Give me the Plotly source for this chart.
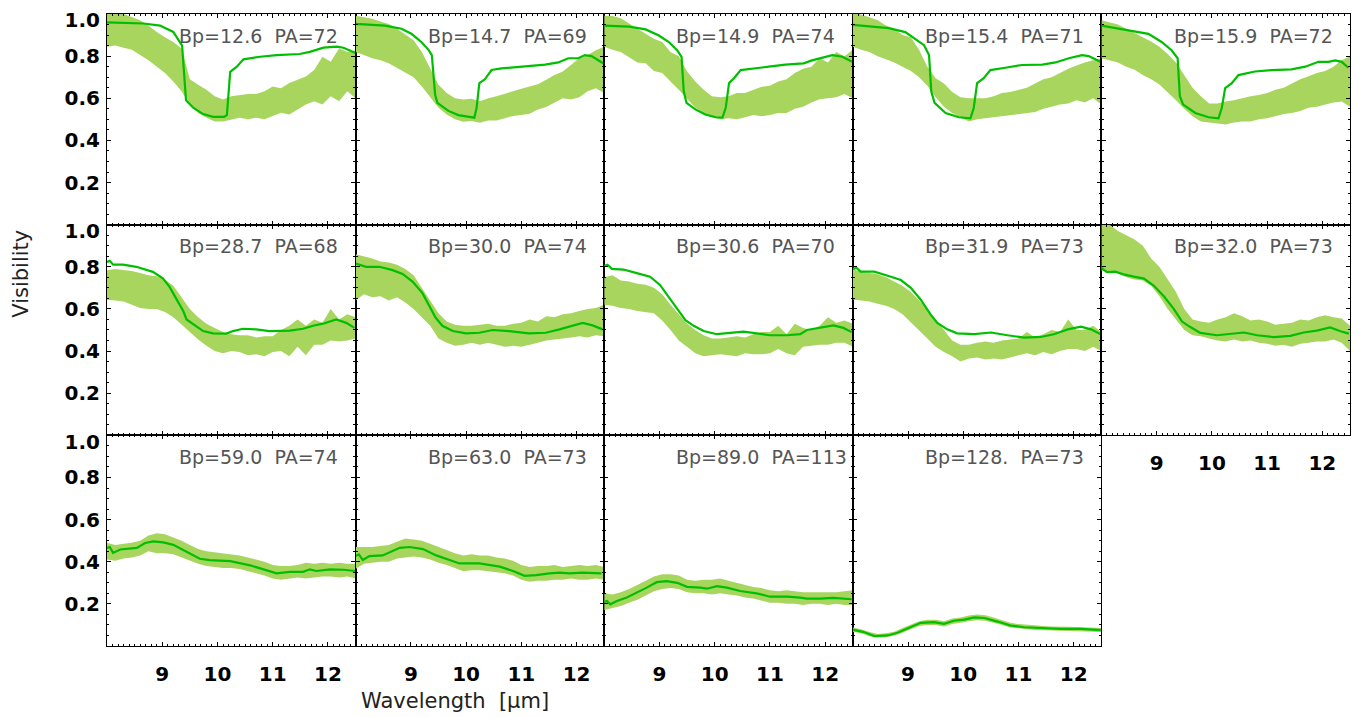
import plotly.graph_objects as go
from plotly.subplots import make_subplots

# wavelength grid of the measured visibility bands (micron)
WAVE = [8.00, 8.15, 8.30, 8.45, 8.60, 8.75, 8.90, 9.05, 9.20, 9.35, 9.50, 9.65,
        9.80, 9.95, 10.10, 10.25, 10.40, 10.55, 10.70, 10.85, 11.00, 11.15,
        11.30, 11.45, 11.60, 11.75, 11.90, 12.05, 12.20, 12.35, 12.50]

BP = ["12.6", "14.7", "14.9", "15.4", "15.9", "28.7", "30.0", "30.6", "31.9",
      "32.0", "59.0", "63.0", "89.0", "128."]
PA = [72, 69, 74, 71, 72, 68, 74, 70, 73, 73, 74, 73, 113, 73]

X_TICKS = [9, 10, 11, 12]
Y_TICKS = [0.2, 0.4, 0.6, 0.8, 1.0]
Y_TICKTEXT = ["0.2", "0.4", "0.6", "0.8", "1.0"]

# upper / lower edge of the observed band, model wavelength / model visibility
HI_01 = [1.03, 1.02, 1.00, 0.985, 0.97, 0.945, 0.915, 0.89, 0.867, 0.836, 0.69, 0.664, 0.64, 0.61, 0.594, 0.61,
         0.614, 0.62, 0.62, 0.633, 0.656, 0.648, 0.672, 0.688, 0.703, 0.734, 0.797, 0.773, 0.836, 0.82, 0.828]
LO_01 = [0.844, 0.85, 0.84, 0.83, 0.805, 0.78, 0.75, 0.72, 0.68, 0.633, 0.57, 0.53, 0.508, 0.49, 0.49, 0.5,
         0.508, 0.5, 0.508, 0.5, 0.516, 0.531, 0.523, 0.547, 0.57, 0.586, 0.57, 0.61, 0.586, 0.633, 0.6]
MX_01 = [8.0, 8.66, 8.96, 9.20, 9.36, 9.43, 9.56, 9.74, 9.92, 10.12, 10.17, 10.23, 10.35, 10.47, 10.77, 11.07,
         11.49, 11.67, 11.92, 12.16, 12.28, 12.5]
MY_01 = [0.96, 0.955, 0.945, 0.915, 0.85, 0.59, 0.555, 0.525, 0.512, 0.512, 0.52, 0.725, 0.75, 0.785, 0.797, 0.805,
         0.81, 0.82, 0.84, 0.845, 0.84, 0.815]

HI_02 = [0.992, 0.984, 0.977, 0.964, 0.953, 0.93, 0.902, 0.875, 0.82, 0.742, 0.664, 0.625, 0.6, 0.594, 0.598, 0.586,
         0.6, 0.61, 0.62, 0.633, 0.645, 0.656, 0.667, 0.688, 0.71, 0.727, 0.758, 0.79, 0.805, 0.828, 0.844]
LO_02 = [0.82, 0.805, 0.79, 0.78, 0.766, 0.745, 0.723, 0.7, 0.656, 0.605, 0.555, 0.523, 0.5, 0.489, 0.492, 0.484,
         0.495, 0.495, 0.505, 0.516, 0.52, 0.527, 0.547, 0.558, 0.578, 0.6, 0.594, 0.605, 0.633, 0.648, 0.625]
MX_02 = [8.0, 8.53, 8.83, 9.01, 9.19, 9.32, 9.38, 9.44, 9.48, 9.68, 9.86, 10.10, 10.15, 10.19, 10.24, 10.34,
         10.46, 10.64, 10.94, 11.43, 11.67, 11.85, 12.03, 12.15, 12.27, 12.48]
MY_02 = [0.953, 0.945, 0.93, 0.906, 0.867, 0.83, 0.805, 0.617, 0.578, 0.54, 0.52, 0.508, 0.508, 0.555, 0.672, 0.69,
         0.734, 0.742, 0.75, 0.76, 0.77, 0.79, 0.79, 0.805, 0.8, 0.766]

HI_03 = [0.992, 0.99, 0.98, 0.953, 0.93, 0.906, 0.883, 0.867, 0.82, 0.8, 0.727, 0.68, 0.64, 0.61, 0.605, 0.61,
         0.625, 0.625, 0.64, 0.655, 0.66, 0.68, 0.69, 0.72, 0.74, 0.75, 0.79, 0.77, 0.82, 0.8, 0.83]
LO_03 = [0.844, 0.83, 0.82, 0.797, 0.77, 0.766, 0.73, 0.72, 0.68, 0.64, 0.6, 0.555, 0.53, 0.51, 0.5, 0.505,
         0.5, 0.51, 0.52, 0.515, 0.52, 0.53, 0.53, 0.55, 0.56, 0.58, 0.595, 0.6, 0.605, 0.62, 0.6]
MX_03 = [8.0, 8.45, 8.75, 8.99, 9.17, 9.32, 9.40, 9.44, 9.49, 9.65, 9.83, 10.02, 10.14, 10.20, 10.26, 10.35,
         10.47, 10.68, 10.98, 11.28, 11.61, 11.76, 11.89, 12.13, 12.31, 12.49]
MY_03 = [0.945, 0.94, 0.927, 0.898, 0.867, 0.828, 0.797, 0.633, 0.578, 0.547, 0.523, 0.51, 0.508, 0.555, 0.672, 0.695,
         0.734, 0.742, 0.75, 0.76, 0.766, 0.78, 0.79, 0.805, 0.797, 0.773]

HI_04 = [1.01, 0.998, 0.984, 0.97, 0.945, 0.93, 0.9, 0.89, 0.83, 0.75, 0.695, 0.67, 0.63, 0.605, 0.6, 0.6,
         0.6, 0.61, 0.625, 0.63, 0.64, 0.65, 0.67, 0.69, 0.7, 0.72, 0.74, 0.755, 0.77, 0.78, 0.79]
LO_04 = [0.844, 0.83, 0.82, 0.8, 0.785, 0.77, 0.75, 0.73, 0.7, 0.66, 0.605, 0.56, 0.53, 0.51, 0.49, 0.5,
         0.505, 0.51, 0.515, 0.52, 0.525, 0.53, 0.535, 0.55, 0.56, 0.57, 0.575, 0.59, 0.58, 0.6, 0.57]
MX_04 = [8.0, 8.65, 8.95, 9.13, 9.29, 9.38, 9.42, 9.48, 9.68, 9.92, 10.13, 10.19, 10.25, 10.37, 10.49, 10.76,
         11.06, 11.43, 11.67, 11.91, 12.15, 12.27, 12.48]
MY_04 = [0.948, 0.933, 0.914, 0.883, 0.852, 0.805, 0.633, 0.578, 0.53, 0.51, 0.505, 0.555, 0.672, 0.695, 0.734, 0.745,
         0.758, 0.76, 0.77, 0.79, 0.805, 0.8, 0.773]

HI_05 = [0.97, 0.96, 0.95, 0.93, 0.91, 0.89, 0.87, 0.845, 0.81, 0.77, 0.71, 0.65, 0.61, 0.575, 0.575, 0.585,
         0.59, 0.6, 0.61, 0.615, 0.625, 0.64, 0.65, 0.67, 0.69, 0.705, 0.72, 0.73, 0.75, 0.78, 0.8]
LO_05 = [0.79, 0.78, 0.77, 0.75, 0.735, 0.71, 0.69, 0.665, 0.63, 0.59, 0.55, 0.515, 0.49, 0.485, 0.48, 0.475,
         0.485, 0.49, 0.49, 0.5, 0.505, 0.515, 0.525, 0.53, 0.54, 0.555, 0.56, 0.57, 0.58, 0.585, 0.56]
MX_05 = [8.0, 8.55, 8.85, 9.09, 9.27, 9.38, 9.42, 9.48, 9.70, 9.94, 10.12, 10.18, 10.24, 10.36, 10.48, 10.78,
         11.08, 11.44, 11.69, 11.93, 12.11, 12.23, 12.35, 12.47]
MY_05 = [0.945, 0.92, 0.906, 0.867, 0.828, 0.79, 0.61, 0.57, 0.53, 0.51, 0.505, 0.555, 0.648, 0.672, 0.71, 0.727,
         0.734, 0.737, 0.75, 0.773, 0.773, 0.78, 0.773, 0.745]

HI_06 = [0.784, 0.79, 0.785, 0.78, 0.77, 0.76, 0.755, 0.74, 0.71, 0.655, 0.6, 0.56, 0.53, 0.51, 0.49, 0.48,
         0.475, 0.475, 0.465, 0.47, 0.47, 0.5, 0.52, 0.55, 0.52, 0.55, 0.535, 0.6, 0.55, 0.575, 0.56]
LO_06 = [0.644, 0.64, 0.635, 0.62, 0.605, 0.6, 0.6, 0.585, 0.56, 0.525, 0.49, 0.455, 0.425, 0.4, 0.39, 0.4,
         0.395, 0.38, 0.385, 0.375, 0.395, 0.4, 0.375, 0.42, 0.38, 0.43, 0.43, 0.45, 0.445, 0.45, 0.46]
MX_06 = [8.0, 8.05, 8.11, 8.29, 8.53, 8.71, 8.83, 9.01, 9.13, 9.25, 9.38, 9.44, 9.56, 9.74, 9.92, 10.16,
         10.28, 10.46, 10.70, 10.94, 11.31, 11.55, 11.73, 11.91, 12.15, 12.33, 12.48]
MY_06 = [0.823, 0.828, 0.81, 0.81, 0.8, 0.784, 0.776, 0.745, 0.706, 0.65, 0.59, 0.55, 0.527, 0.495, 0.484, 0.483,
         0.495, 0.506, 0.503, 0.495, 0.497, 0.506, 0.52, 0.53, 0.55, 0.534, 0.51]

HI_07 = [0.86, 0.85, 0.84, 0.825, 0.82, 0.81, 0.79, 0.76, 0.7, 0.64, 0.58, 0.54, 0.525, 0.52, 0.52, 0.525,
         0.53, 0.52, 0.52, 0.53, 0.535, 0.55, 0.54, 0.565, 0.56, 0.575, 0.58, 0.59, 0.6, 0.605, 0.62]
LO_07 = [0.64, 0.67, 0.655, 0.66, 0.64, 0.655, 0.63, 0.6, 0.56, 0.52, 0.46, 0.44, 0.425, 0.43, 0.44, 0.43,
         0.44, 0.43, 0.42, 0.425, 0.42, 0.43, 0.44, 0.45, 0.455, 0.46, 0.465, 0.47, 0.465, 0.475, 0.47]
MX_07 = [8.0, 8.07, 8.19, 8.43, 8.67, 8.85, 9.03, 9.21, 9.36, 9.45, 9.57, 9.76, 10.00, 10.24, 10.48, 10.78,
         11.14, 11.44, 11.69, 11.93, 12.11, 12.29, 12.47]
MY_07 = [0.816, 0.81, 0.8, 0.8, 0.784, 0.766, 0.73, 0.675, 0.605, 0.558, 0.52, 0.495, 0.484, 0.487, 0.5, 0.495,
         0.484, 0.487, 0.503, 0.522, 0.534, 0.522, 0.503]

HI_08 = [0.75, 0.76, 0.735, 0.73, 0.72, 0.715, 0.7, 0.67, 0.62, 0.575, 0.53, 0.5, 0.475, 0.46, 0.46, 0.465,
         0.47, 0.465, 0.48, 0.49, 0.49, 0.52, 0.48, 0.53, 0.51, 0.5, 0.52, 0.56, 0.535, 0.545, 0.53]
LO_08 = [0.62, 0.615, 0.605, 0.6, 0.59, 0.585, 0.58, 0.545, 0.5, 0.45, 0.42, 0.39, 0.375, 0.38, 0.385, 0.38,
         0.375, 0.39, 0.385, 0.385, 0.39, 0.41, 0.39, 0.38, 0.42, 0.425, 0.43, 0.43, 0.44, 0.44, 0.42]
MX_08 = [8.0, 8.06, 8.14, 8.35, 8.59, 8.83, 9.01, 9.19, 9.38, 9.47, 9.62, 9.80, 10.04, 10.28, 10.52, 10.76,
         11.00, 11.31, 11.55, 11.67, 11.91, 12.15, 12.33, 12.48]
MY_08 = [0.803, 0.81, 0.79, 0.787, 0.77, 0.753, 0.714, 0.65, 0.58, 0.547, 0.52, 0.495, 0.48, 0.487, 0.492, 0.484,
         0.475, 0.475, 0.48, 0.5, 0.51, 0.522, 0.51, 0.49]

HI_09 = [0.79, 0.775, 0.77, 0.765, 0.75, 0.73, 0.71, 0.68, 0.64, 0.6, 0.55, 0.5, 0.45, 0.43, 0.43, 0.44,
         0.445, 0.44, 0.45, 0.455, 0.46, 0.49, 0.465, 0.48, 0.5, 0.49, 0.55, 0.5, 0.5, 0.52, 0.49]
LO_09 = [0.645, 0.64, 0.635, 0.625, 0.615, 0.6, 0.575, 0.54, 0.5, 0.46, 0.42, 0.395, 0.375, 0.35, 0.365, 0.37,
         0.36, 0.365, 0.36, 0.37, 0.38, 0.39, 0.38, 0.395, 0.385, 0.4, 0.41, 0.41, 0.4, 0.42, 0.4]
MX_09 = [8.0, 8.07, 8.14, 8.39, 8.69, 8.87, 9.05, 9.23, 9.41, 9.53, 9.71, 9.89, 10.2, 10.5, 10.8, 11.1,
         11.4, 11.64, 11.89, 12.13, 12.31, 12.49]
MY_09 = [0.79, 0.795, 0.777, 0.777, 0.753, 0.737, 0.7, 0.644, 0.573, 0.534, 0.503, 0.484, 0.48, 0.488, 0.475, 0.464,
         0.467, 0.48, 0.503, 0.516, 0.503, 0.48]

HI_10 = [1.02, 1.0, 0.97, 0.95, 0.93, 0.9, 0.84, 0.8, 0.74, 0.68, 0.6, 0.55, 0.54, 0.535, 0.55, 0.56,
         0.58, 0.565, 0.545, 0.55, 0.54, 0.525, 0.53, 0.535, 0.55, 0.545, 0.56, 0.57, 0.56, 0.555, 0.52]
LO_10 = [0.78, 0.78, 0.77, 0.75, 0.74, 0.735, 0.71, 0.66, 0.6, 0.55, 0.5, 0.475, 0.47, 0.46, 0.45, 0.445,
         0.455, 0.445, 0.45, 0.44, 0.435, 0.425, 0.43, 0.42, 0.435, 0.44, 0.445, 0.445, 0.455, 0.44, 0.4]
MX_10 = [8.0, 8.1, 8.25, 8.4, 8.59, 8.77, 8.95, 9.13, 9.31, 9.46, 9.61, 9.79, 10.09, 10.33, 10.58, 10.82,
         11.12, 11.42, 11.66, 11.9, 12.14, 12.33, 12.48]
MY_10 = [0.795, 0.775, 0.777, 0.764, 0.753, 0.744, 0.71, 0.66, 0.6, 0.54, 0.514, 0.486, 0.475, 0.483, 0.488, 0.475,
         0.466, 0.472, 0.488, 0.497, 0.512, 0.494, 0.483]

HI_11 = [0.49, 0.48, 0.485, 0.49, 0.5, 0.525, 0.535, 0.53, 0.515, 0.5, 0.48, 0.46, 0.45, 0.445, 0.44, 0.435,
         0.43, 0.42, 0.41, 0.4, 0.385, 0.38, 0.38, 0.385, 0.395, 0.39, 0.395, 0.39, 0.395, 0.39, 0.39]
LO_11 = [0.41, 0.405, 0.415, 0.42, 0.43, 0.45, 0.44, 0.44, 0.435, 0.42, 0.405, 0.39, 0.38, 0.375, 0.37, 0.37,
         0.365, 0.355, 0.345, 0.335, 0.32, 0.315, 0.32, 0.325, 0.32, 0.325, 0.33, 0.33, 0.325, 0.33, 0.32]
MX_11 = [8.0, 8.05, 8.11, 8.24, 8.54, 8.69, 8.84, 9.02, 9.2, 9.44, 9.68, 9.86, 10.23, 10.59, 10.83, 11.07,
         11.31, 11.55, 11.67, 11.79, 12.04, 12.28, 12.49]
MY_11 = [0.466, 0.47, 0.442, 0.458, 0.466, 0.489, 0.497, 0.492, 0.48, 0.445, 0.414, 0.408, 0.403, 0.383, 0.364, 0.345,
         0.352, 0.352, 0.364, 0.356, 0.364, 0.362, 0.356]

HI_12 = [0.47, 0.47, 0.47, 0.475, 0.48, 0.495, 0.51, 0.505, 0.5, 0.485, 0.47, 0.455, 0.44, 0.43, 0.435, 0.43,
         0.43, 0.42, 0.415, 0.405, 0.385, 0.375, 0.38, 0.38, 0.385, 0.375, 0.38, 0.385, 0.38, 0.385, 0.375]
LO_12 = [0.365, 0.39, 0.395, 0.4, 0.4, 0.415, 0.42, 0.425, 0.42, 0.41, 0.395, 0.385, 0.37, 0.355, 0.36, 0.36,
         0.355, 0.35, 0.345, 0.335, 0.315, 0.305, 0.31, 0.31, 0.315, 0.315, 0.32, 0.315, 0.315, 0.32, 0.315]
MX_12 = [8.0, 8.06, 8.13, 8.25, 8.49, 8.68, 8.8, 8.98, 9.22, 9.46, 9.64, 9.88, 10.24, 10.61, 10.85, 11.06,
         11.27, 11.51, 11.69, 11.87, 12.11, 12.45]
MY_12 = [0.427, 0.435, 0.408, 0.427, 0.43, 0.45, 0.466, 0.47, 0.46, 0.43, 0.414, 0.392, 0.392, 0.377, 0.356, 0.333,
         0.336, 0.345, 0.348, 0.345, 0.348, 0.345]

HI_13 = [0.25, 0.245, 0.255, 0.27, 0.29, 0.31, 0.33, 0.34, 0.34, 0.335, 0.315, 0.31, 0.315, 0.315, 0.32, 0.31,
         0.3, 0.29, 0.28, 0.275, 0.265, 0.26, 0.265, 0.26, 0.255, 0.255, 0.255, 0.255, 0.255, 0.26, 0.265]
LO_13 = [0.17, 0.18, 0.19, 0.205, 0.22, 0.24, 0.26, 0.27, 0.275, 0.27, 0.255, 0.25, 0.25, 0.245, 0.25, 0.245,
         0.24, 0.23, 0.225, 0.215, 0.205, 0.205, 0.2, 0.2, 0.195, 0.2, 0.2, 0.195, 0.2, 0.195, 0.195]
MX_13 = [8.0, 8.05, 8.11, 8.23, 8.41, 8.59, 8.77, 8.95, 9.13, 9.32, 9.5, 9.74, 9.86, 10.04, 10.22, 10.46,
         10.76, 11.0, 11.31, 11.55, 11.67, 11.91, 12.15, 12.48]
MY_13 = [0.209, 0.214, 0.198, 0.214, 0.23, 0.253, 0.277, 0.303, 0.308, 0.3, 0.281, 0.277, 0.272, 0.284, 0.277, 0.261,
         0.25, 0.234, 0.234, 0.23, 0.225, 0.225, 0.228, 0.222]

HI_14 = [0.088, 0.08, 0.066, 0.057, 0.06, 0.068, 0.085, 0.1, 0.118, 0.125, 0.125, 0.118, 0.13, 0.135, 0.145, 0.15,
         0.146, 0.135, 0.122, 0.11, 0.104, 0.1, 0.097, 0.095, 0.092, 0.09, 0.091, 0.09, 0.088, 0.087, 0.085]
LO_14 = [0.068, 0.06, 0.046, 0.04, 0.042, 0.05, 0.063, 0.08, 0.095, 0.1, 0.1, 0.093, 0.105, 0.11, 0.118, 0.122,
         0.12, 0.11, 0.1, 0.088, 0.082, 0.079, 0.076, 0.075, 0.072, 0.072, 0.071, 0.07, 0.069, 0.068, 0.066]
MX_14 = [8.0, 8.2, 8.39, 8.63, 8.81, 8.99, 9.23, 9.47, 9.65, 9.83, 10.02, 10.2, 10.38, 10.62, 10.86, 11.1,
         11.4, 11.76, 12.13, 12.49]
MY_14 = [0.078, 0.066, 0.047, 0.05, 0.063, 0.084, 0.11, 0.113, 0.105, 0.12, 0.125, 0.136, 0.133, 0.116, 0.097, 0.089,
         0.084, 0.081, 0.081, 0.075]

panels = [
    (HI_01, LO_01, MX_01, MY_01), (HI_02, LO_02, MX_02, MY_02), (HI_03, LO_03, MX_03, MY_03),
    (HI_04, LO_04, MX_04, MY_04), (HI_05, LO_05, MX_05, MY_05), (HI_06, LO_06, MX_06, MY_06),
    (HI_07, LO_07, MX_07, MY_07), (HI_08, LO_08, MX_08, MY_08), (HI_09, LO_09, MX_09, MY_09),
    (HI_10, LO_10, MX_10, MY_10), (HI_11, LO_11, MX_11, MY_11), (HI_12, LO_12, MX_12, MY_12),
    (HI_13, LO_13, MX_13, MY_13), (HI_14, LO_14, MX_14, MY_14),
]

FILL = "#a8d55e"
LINE = "#00bf00"
TICKFONT = dict(family="DejaVu Sans", size=20, color="black", weight="bold")

fig = make_subplots(rows=3, cols=5, horizontal_spacing=0, vertical_spacing=0)

for k, (hi, lo, mx, my) in enumerate(panels):
    row, col = k // 5 + 1, k % 5 + 1
    # band between lower and upper edge
    fig.add_trace(go.Scatter(
        x=WAVE + WAVE[::-1], y=hi + lo[::-1],
        mode="lines", fill="toself", fillcolor=FILL,
        line=dict(width=0, color=FILL),
        hoverinfo="skip", showlegend=False
    ), row=row, col=col)
    # model curve
    fig.add_trace(go.Scatter(
        x=mx, y=my, mode="lines",
        line=dict(color=LINE, width=2.2),
        showlegend=False
    ), row=row, col=col)
    fig.add_annotation(
        text=f"Bp={BP[k]}\u00a0\u00a0PA={PA[k]}",
        x=9.27, y=0.897, xanchor="left", yanchor="middle", showarrow=False,
        font=dict(family="DejaVu Sans", size=19, color="#555555"),
        row=row, col=col
    )

for k in range(15):
    row, col = k // 5 + 1, k % 5 + 1
    if k == 14:
        fig.update_xaxes(visible=False, row=row, col=col)
        fig.update_yaxes(visible=False, row=row, col=col)
        continue
    show_x = row == 3 or (row == 2 and col == 5)
    fig.update_xaxes(
        range=[8, 12.5], tickmode="array", tickvals=X_TICKS,
        ticks="inside", ticklen=4, tickwidth=1.2, tickcolor="black",
        minor=dict(ticks="inside", tick0=8, dtick=0.1, ticklen=2, tickwidth=1, tickcolor="black"),
        showline=True, linecolor="black", linewidth=1.3, mirror="ticks",
        showgrid=False, zeroline=False,
        showticklabels=show_x, tickfont=TICKFONT, ticklabelstandoff=10,
        row=row, col=col
    )
    fig.update_yaxes(
        range=[0, 1.0], tickmode="array", tickvals=Y_TICKS,
        ticks="inside", ticklen=4, tickwidth=1.2, tickcolor="black",
        minor=dict(ticks="inside", tick0=0, dtick=0.05, ticklen=2, tickwidth=1, tickcolor="black"),
        showline=True, linecolor="black", linewidth=1.3, mirror="ticks",
        showgrid=False, zeroline=False, showticklabels=False,
        row=row, col=col
    )

# label-only axes for the first column: the "1.0" label sits just under the panel top
label_vals = Y_TICKS[:-1] + [0.97]
for j, idx in enumerate([1, 6, 11]):
    name = f"yaxis{16 + j}"
    xa = "x" if idx == 1 else f"x{idx}"
    ya = "y" if idx == 1 else f"y{idx}"
    fig.update_layout(**{name: dict(
        overlaying=ya, anchor=xa, side="left", range=[0, 1.0],
        tickmode="array", tickvals=label_vals, ticktext=Y_TICKTEXT,
        ticks="", showline=False, showgrid=False, zeroline=False,
        tickfont=TICKFONT, ticklabelstandoff=6, ticklabeloverflow="allow",
    )})
    fig.add_trace(go.Scatter(x=[None], y=[None], xaxis=xa, yaxis=f"y{16 + j}",
                             hoverinfo="skip", showlegend=False))

fig.add_annotation(text="Visibility", textangle=-90, xref="paper", yref="paper",
                   x=-0.0692, y=0.589, xanchor="center", yanchor="middle", showarrow=False,
                   font=dict(family="DejaVu Sans", size=21, color="#222222"))
fig.add_annotation(text="Wavelength\u00a0\u00a0[\u03bcm]", xref="paper", yref="paper",
                   x=0.28, y=-0.0878, xanchor="center", yanchor="middle", showarrow=False,
                   font=dict(family="DejaVu Sans", size=21, color="#222222"))

# page body adds an 8px offset, so the figure is sized to end at the window edge
fig.update_layout(
    width=1355, height=709,
    margin=dict(l=99, r=13, t=0, b=71),
    plot_bgcolor="white", paper_bgcolor="white",
    showlegend=False,
)

fig.write_html("out.html")
